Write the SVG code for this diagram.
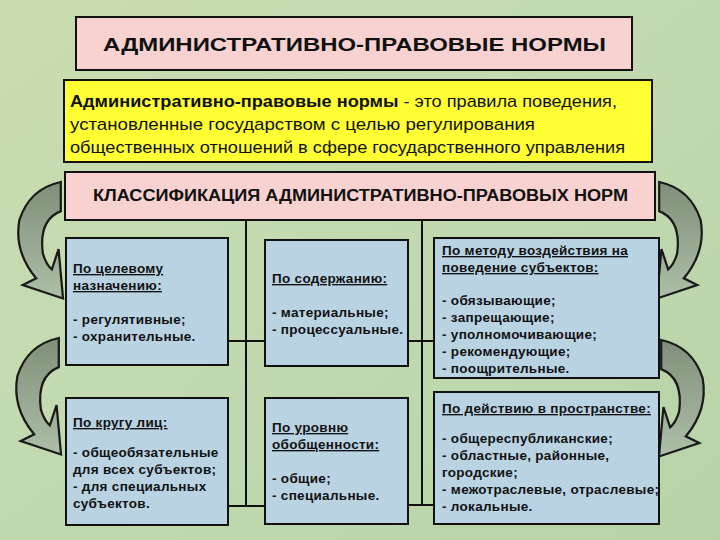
<svg xmlns="http://www.w3.org/2000/svg" width="720" height="540" viewBox="0 0 720 540">
<defs>
<linearGradient id="bg" x1="0" y1="0" x2="1" y2="1"><stop offset="0" stop-color="#c9dcae"/><stop offset="0.5" stop-color="#c2d9b0"/><stop offset="1" stop-color="#b7d3a6"/></linearGradient>
<linearGradient id="ar" x1="0" y1="0" x2="0" y2="1"><stop offset="0" stop-color="#7f8f7a"/><stop offset="1" stop-color="#aebfa8"/></linearGradient>
<path id="arrow" d="M40,0 L40,26 Q20,34 24,64 Q27,74 32,78 L38,60 L42,104 L6,92 L18,86 Q-2,62 3,34 Q12,6 40,0 Z"/>
<style>
.bx{fill:#b9d3e3;stroke:#111;stroke-width:2}
.pk{fill:#f7d2d0;stroke:#111;stroke-width:2}
.t{font-family:"Liberation Sans",Arial,sans-serif;font-weight:bold;font-size:13.5px;fill:#111;letter-spacing:0.3px}
.d{font-family:"Liberation Sans",Arial,sans-serif;font-size:17px;fill:#111}
.u{text-decoration:underline}
.ln{stroke:#111;stroke-width:2;fill:none}
.ar{fill:url(#ar);stroke:#1a1a1a;stroke-width:2}
</style>
</defs>
<rect width="720" height="540" fill="url(#bg)"/>
<g id="title"><rect class="pk" x="76" y="17" width="556" height="53"/>
<text class="t" x="103" y="51" style="font-size:19px;letter-spacing:0" textLength="503" lengthAdjust="spacingAndGlyphs">АДМИНИСТРАТИВНО-ПРАВОВЫЕ НОРМЫ</text></g>
<g id="definition"><rect x="64" y="80" width="588" height="82" fill="#ffff33" stroke="#111" stroke-width="2"/>
<text class="d" x="70" y="107" textLength="547" lengthAdjust="spacingAndGlyphs"><tspan font-weight="bold">Административно-правовые нормы</tspan> - это правила поведения,</text>
<text class="d" x="70" y="130" textLength="465" lengthAdjust="spacingAndGlyphs">установленные государством с целью регулирования</text>
<text class="d" x="70" y="153" textLength="555" lengthAdjust="spacingAndGlyphs">общественных отношений в сфере государственного управления</text></g>
<g id="classification"><rect class="pk" x="65" y="172" width="590" height="48"/>
<text class="t" style="font-size:16px;letter-spacing:0" x="93" y="201" textLength="535" lengthAdjust="spacingAndGlyphs">КЛАССИФИКАЦИЯ АДМИНИСТРАТИВНО-ПРАВОВЫХ НОРМ</text></g>
<g id="connectors">
<path class="ln" d="M246,220 V506 M422,220 V506 M228,341 H265 M228,506 H265 M408,341 H434 M408,505 H434"/>
</g>
<g id="arrows">
<use href="#arrow" class="ar" transform="translate(16,182) scale(1.12)"/>
<use href="#arrow" class="ar" transform="translate(14,338) scale(1.12)"/>
<use href="#arrow" class="ar" transform="translate(704,182) scale(-1.12,1.12)"/>
<use href="#arrow" class="ar" transform="translate(706,340) scale(-1.12,1.12)"/>
</g>
<g id="n1"><rect class="bx" x="66" y="238" width="162" height="127"/>
<text class="t" x="73" y="273"><tspan class="u">По целевому</tspan><tspan class="u" x="73" dy="17">назначению:</tspan><tspan x="73" dy="34">- регулятивные;</tspan><tspan x="73" dy="17">- охранительные.</tspan></text></g>
<g id="n2"><rect class="bx" x="265" y="240" width="143" height="126"/>
<text class="t" x="272" y="283"><tspan class="u">По содержанию:</tspan><tspan x="272" dy="34">- материальные;</tspan><tspan x="272" dy="17">- процессуальные.</tspan></text></g>
<g id="n3"><rect class="bx" x="434" y="238" width="225" height="140"/>
<text class="t" x="442" y="255"><tspan class="u">По методу воздействия на</tspan><tspan class="u" x="442" dy="17">поведение субъектов:</tspan><tspan x="442" dy="33">- обязывающие;</tspan><tspan x="442" dy="17">- запрещающие;</tspan><tspan x="442" dy="17">- уполномочивающие;</tspan><tspan x="442" dy="17">- рекомендующие;</tspan><tspan x="442" dy="17">- поощрительные.</tspan></text></g>
<g id="n4"><rect class="bx" x="66" y="398" width="162" height="127"/>
<text class="t" x="73" y="427"><tspan class="u">По кругу лиц:</tspan><tspan x="73" dy="30">- общеобязательные</tspan><tspan x="73" dy="17">для всех субъектов;</tspan><tspan x="73" dy="17">- для специальных</tspan><tspan x="73" dy="17">субъектов.</tspan></text></g>
<g id="n5"><rect class="bx" x="265" y="398" width="143" height="126"/>
<text class="t" x="272" y="432"><tspan class="u">По уровню</tspan><tspan class="u" x="272" dy="17">обобщенности:</tspan><tspan x="272" dy="34">- общие;</tspan><tspan x="272" dy="17">- специальные.</tspan></text></g>
<g id="n6"><rect class="bx" x="434" y="392" width="225" height="132"/>
<text class="t" x="442" y="413"><tspan class="u">По действию в пространстве:</tspan><tspan x="442" dy="30">- общереспубликанские;</tspan><tspan x="442" dy="17">- областные, районные,</tspan><tspan x="442" dy="17">городские;</tspan><tspan x="442" dy="17">- межотраслевые, отраслевые;</tspan><tspan x="442" dy="17">- локальные.</tspan></text></g>
</svg>
